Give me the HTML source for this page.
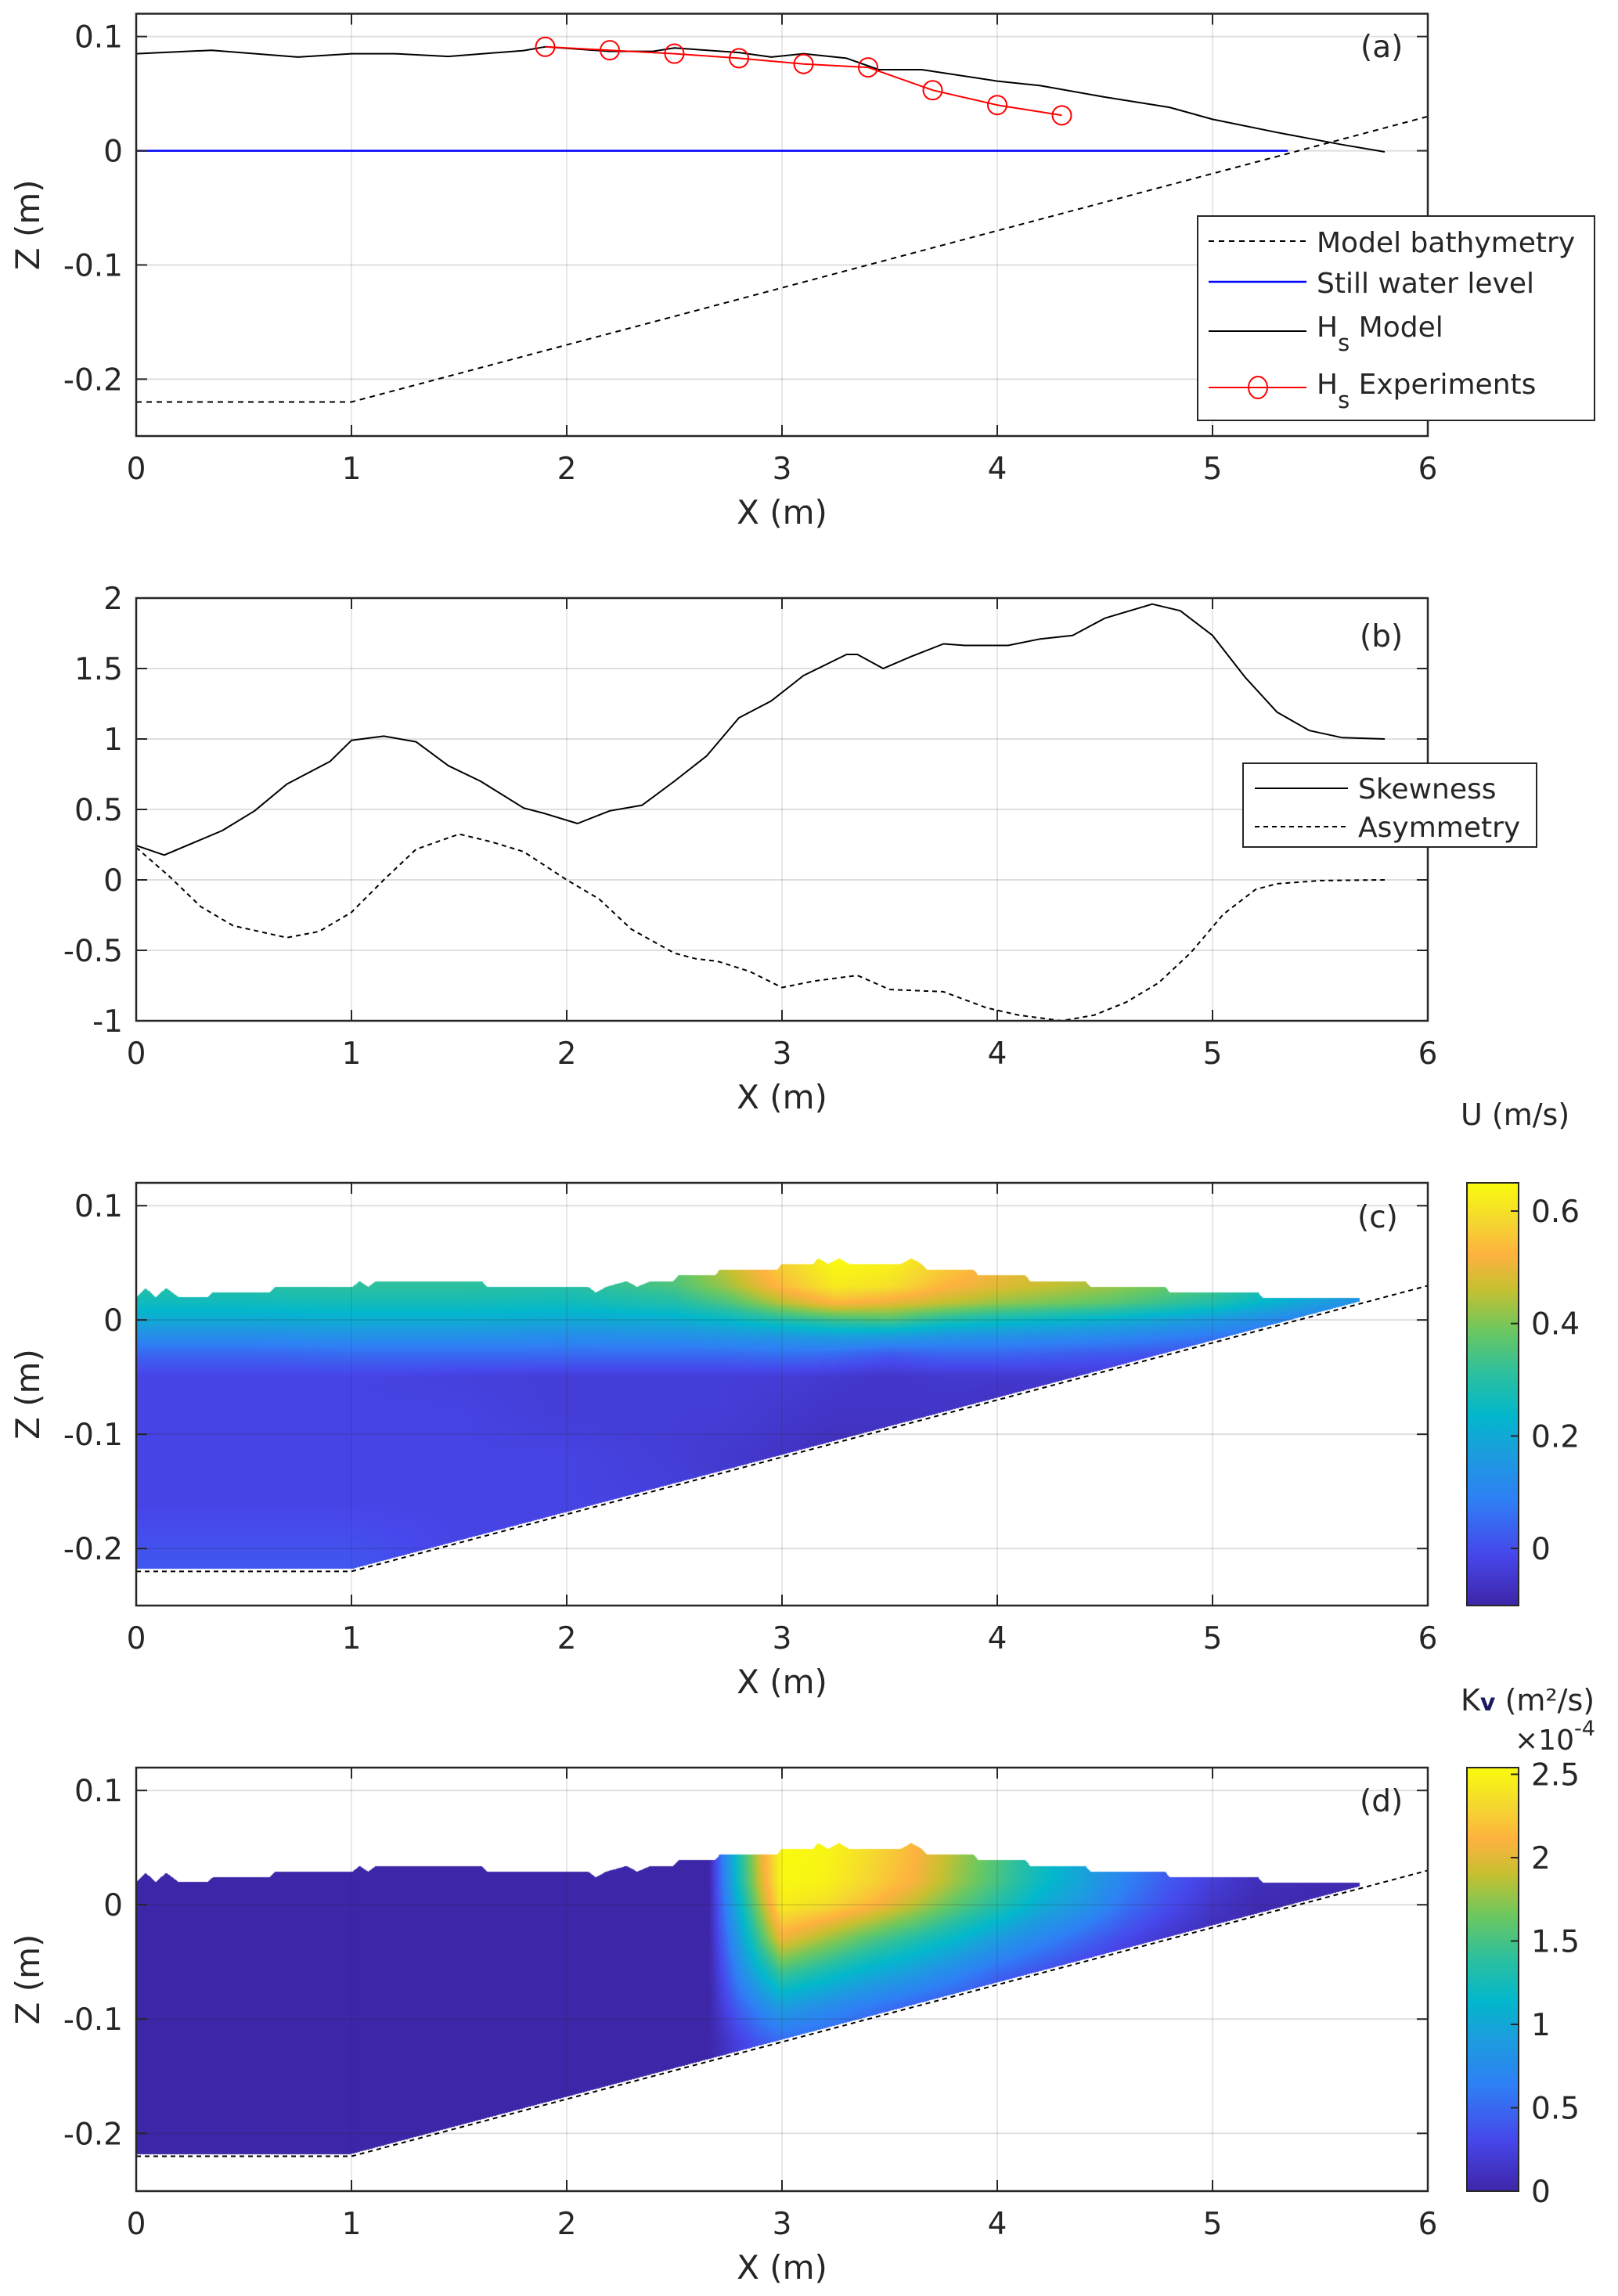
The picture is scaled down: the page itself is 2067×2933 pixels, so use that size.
<!DOCTYPE html>
<html><head><meta charset="utf-8"><style>
html,body{margin:0;padding:0;background:#fff;}
#wrap{position:relative;width:2067px;height:2933px;overflow:hidden;background:#fff;}
#heat{position:absolute;left:0;top:0;}
#svg{position:absolute;left:0;top:0;}
text{font-family:"DejaVu Sans","Liberation Sans",sans-serif;fill:#262626;}
</style></head><body>
<div id="wrap">
<canvas id="heat" width="2067" height="2933"></canvas>
<svg id="svg" width="2067" height="2933" xmlns="http://www.w3.org/2000/svg"></svg>
</div>
<script>
// ---------- DATA ----------
// Panel (a)
const hsModelX = [0,0.35,0.75,1.0,1.2,1.45,1.8,1.9,2.2,2.4,2.5,2.8,2.95,3.1,3.3,3.45,3.65,4.0,4.2,4.5,4.8,5.0,5.3,5.6,5.8];
const hsModelZ = [0.085,0.088,0.082,0.085,0.085,0.0826,0.0877,0.091,0.087,0.087,0.090,0.086,0.082,0.085,0.081,0.071,0.071,0.061,0.057,0.047,0.038,0.0275,0.016,0.0054,-0.001];
const hsExpX = [1.9,2.2,2.5,2.8,3.1,3.4,3.7,4.0,4.3];
const hsExpZ = [0.091,0.088,0.085,0.081,0.076,0.073,0.053,0.040,0.031];
const bathyX = [0,1,6];
const bathyZ = [-0.22,-0.22,0.03];
const swlX = [0,5.35];
const swlZ = [0,0];
// Panel (b)
const skewX = [0,0.13,0.4,0.55,0.7,0.9,1.0,1.15,1.3,1.45,1.6,1.8,1.9,2.05,2.2,2.35,2.5,2.65,2.8,2.95,3.1,3.3,3.35,3.47,3.6,3.75,3.85,4.05,4.2,4.35,4.5,4.72,4.85,5.0,5.15,5.3,5.45,5.6,5.8];
const skewV = [0.244,0.176,0.35,0.49,0.68,0.84,0.99,1.02,0.98,0.81,0.70,0.51,0.47,0.40,0.49,0.53,0.70,0.88,1.15,1.27,1.45,1.60,1.60,1.50,1.585,1.675,1.664,1.664,1.71,1.735,1.857,1.957,1.91,1.735,1.44,1.19,1.06,1.01,1.0];
const asymX = [0,0.15,0.3,0.45,0.7,0.85,1.0,1.15,1.3,1.5,1.65,1.8,2.0,2.15,2.3,2.5,2.6,2.7,2.85,3.0,3.15,3.35,3.5,3.75,3.95,4.1,4.3,4.45,4.6,4.75,4.9,5.05,5.2,5.3,5.5,5.8];
const asymV = [0.23,0.03,-0.19,-0.325,-0.41,-0.366,-0.23,0,0.217,0.325,0.27,0.2,0,-0.135,-0.35,-0.52,-0.56,-0.577,-0.65,-0.764,-0.718,-0.678,-0.778,-0.794,-0.908,-0.96,-1.0,-0.96,-0.867,-0.73,-0.515,-0.244,-0.068,-0.027,-0.005,0];
// Water surface envelope for (c),(d)
const surfX = [0,0.043,0.091,0.139,0.197,0.332,0.356,0.62,0.644,1.005,1.038,1.077,1.115,1.606,1.63,2.10,2.135,2.183,2.279,2.327,2.39,2.495,2.519,2.688,2.712,2.976,3.0,3.144,3.168,3.216,3.264,3.312,3.553,3.601,3.649,3.673,3.889,3.913,4.13,4.154,4.41,4.433,4.779,4.803,5.212,5.236,5.683];
const surfZ = [0.02,0.028,0.02,0.028,0.02,0.02,0.024,0.024,0.029,0.029,0.034,0.029,0.034,0.034,0.029,0.029,0.024,0.029,0.034,0.029,0.034,0.034,0.039,0.039,0.044,0.044,0.049,0.049,0.054,0.049,0.054,0.049,0.049,0.054,0.049,0.044,0.044,0.039,0.039,0.034,0.034,0.029,0.029,0.024,0.024,0.019,0.019];
// Panel (c) U grid
const uGridX = [0,0.5,1,1.5,2,2.5,2.75,3,3.25,3.5,3.75,4,4.5,5,5.5,6];
const uGridZ = [0.055,0.03,0.015,0,-0.015,-0.03,-0.05,-0.08,-0.12,-0.16,-0.22];
const uVals = [
[.32,.32,.33,.33,.32,.38,.48,.58,.65,.64,.58,.52,.46,.38,.27,.12],
[.30,.30,.31,.31,.30,.35,.43,.54,.62,.60,.53,.49,.43,.35,.24,.10],
[.26,.26,.27,.27,.26,.29,.35,.45,.53,.50,.46,.42,.37,.29,.17,.06],
[.20,.20,.21,.21,.20,.21,.24,.29,.33,.35,.29,.26,.22,.16,.08,.02],
[.12,.12,.13,.13,.12,.13,.14,.15,.17,.16,.14,.13,.11,.07,.02,0],
[.04,.04,.05,.05,.05,.05,.05,.06,.05,.02,.04,.04,.02,0,-.01,-.01],
[-.02,-.02,-.02,-.03,-.04,-.04,-.04,-.04,-.05,-.06,-.05,-.05,-.05,-.05,-.05,-.05],
[-.02,-.02,-.02,-.02,-.04,-.04,-.04,-.05,-.06,-.06,-.06,-.07,-.07,-.07,-.07,-.07],
[-.02,-.02,-.02,-.02,-.02,-.04,-.05,-.06,-.08,-.08,-.08,-.08,-.08,-.08,-.08,-.08],
[-.02,-.02,-.02,-.02,-.02,-.03,-.04,-.05,-.06,-.06,-.06,-.06,-.06,-.06,-.06,-.06],
[.02,.02,.02,-.02,-.02,-.02,-.02,-.02,-.02,-.02,-.02,-.02,-.02,-.02,-.02,-.02]];
// Panel (d) Kv grid (x1e-4)
const kGridX = [0,2.66,2.72,2.8,2.9,3.0,3.2,3.4,3.6,3.8,4.0,4.2,4.4,4.6,4.8,5.0,5.2,6];
const kGridZ = [0.05,0.02,0,-0.03,-0.06,-0.09,-0.12,-0.22];
const kVals = [
[0,0,0.6,1.3,2.0,2.54,2.5,2.35,2.15,1.85,1.55,1.25,1.0,0.7,0.45,0.25,0.1,0],
[0,0,0.55,1.25,1.95,2.52,2.48,2.3,2.1,1.8,1.5,1.2,0.95,0.65,0.4,0.22,0.08,0],
[0,0,0.5,1.1,1.8,2.45,2.35,2.15,1.9,1.6,1.35,1.05,0.85,0.55,0.33,0.15,0.05,0],
[0,0,0.4,0.9,1.5,2.05,1.8,1.55,1.35,1.15,0.9,0.7,0.5,0.3,0.15,0.05,0,0],
[0,0,0.3,0.7,1.1,1.45,1.25,1.05,0.9,0.7,0.5,0.35,0.2,0.1,0,0,0,0],
[0,0,0.2,0.45,0.7,0.9,0.75,0.6,0.45,0.35,0.2,0.1,0,0,0,0,0,0],
[0,0,0.1,0.25,0.4,0.5,0.45,0.35,0.25,0.15,0.1,0,0,0,0,0,0,0],
[0,0,0.05,0.1,0.2,0.3,0.3,0.2,0.1,0,0,0,0,0,0,0,0,0]];
const zTicks = [0.1,0,-0.1,-0.2];
const zTickLabels = ["0.1","0","-0.1","-0.2"];
const bTicks = [2,1.5,1,0.5,0,-0.5,-1];
const bTickLabels = ["2","1.5","1","0.5","0","-0.5","-1"];
const xTicks = [0,1,2,3,4,5,6];
const uCbTicks = [0.6,0.4,0.2,0];
const uCbLabels = ["0.6","0.4","0.2","0"];
const kCbTicks = [2.5,2,1.5,1,0.5,0];
const kCbLabels = ["2.5","2","1.5","1","0.5","0"];

// ---------- HELPERS ----------
const NS="http://www.w3.org/2000/svg";
const svg=document.getElementById('svg');
function mk(tag,attrs,parent){const e=document.createElementNS(NS,tag);for(const k in attrs)e.setAttribute(k,attrs[k]);(parent||svg).appendChild(e);return e;}
const X0=174, XS=275;
const px=x=>X0+x*XS;
function yMap(top,bottom,vmin,vmax){return v=>top+(vmax-v)/(vmax-vmin)*(bottom-top);}
const panels={
 a:{top:17.5,bottom:557,vmin:-0.2498,vmax:0.12},
 b:{top:764,bottom:1304,vmin:-1,vmax:2},
 c:{top:1511,bottom:2051,vmin:-0.2499,vmax:0.12},
 d:{top:2258,bottom:2799,vmin:-0.2505,vmax:0.12}
};
for(const k in panels){const p=panels[k];p.py=yMap(p.top,p.bottom,p.vmin,p.vmax);}

const stops=[[0,[62,38,168]],[0.12,[71,71,235]],[0.25,[47,128,245]],[0.37,[26,160,220]],[0.45,[3,184,204]],[0.55,[45,192,158]],[0.65,[108,200,96]],[0.75,[200,192,48]],[0.83,[254,178,63]],[0.91,[245,216,48]],[1,[249,251,14]]];
function cmap(t){t=Math.max(0,Math.min(1,t));for(let i=1;i<stops.length;i++){if(t<=stops[i][0]){const a=stops[i-1],b=stops[i];const f=(t-a[0])/(b[0]-a[0]);return [0,1,2].map(j=>Math.round(a[1][j]+f*(b[1][j]-a[1][j])));}}return stops[stops.length-1][1];}
function interp1(xs,ys,x){if(x<=xs[0])return ys[0];for(let i=1;i<xs.length;i++){if(x<=xs[i]){const f=(x-xs[i-1])/(xs[i]-xs[i-1]);return ys[i-1]+f*(ys[i]-ys[i-1]);}}return ys[ys.length-1];}
function bilin(gx,gz,vals,x,z){
 let i=0;while(i<gx.length-2&&x>gx[i+1])i++;
 let j=0;while(j<gz.length-2&&z<gz[j+1])j++;
 let fx=(x-gx[i])/(gx[i+1]-gx[i]);fx=Math.max(0,Math.min(1,fx));
 let fz=(gz[j]-z)/(gz[j]-gz[j+1]);fz=Math.max(0,Math.min(1,fz));
 const v00=vals[j][i],v01=vals[j][i+1],v10=vals[j+1][i],v11=vals[j+1][i+1];
 return (v00*(1-fx)+v01*fx)*(1-fz)+(v10*(1-fx)+v11*fx)*fz;
}
const bathy=x=>interp1(bathyX,bathyZ,x);

// ---------- HEATMAPS ----------
const ctx=document.getElementById('heat').getContext('2d');
function drawField(p,gx,gz,vals,vmin,vmax){
 const x1=Math.round(px(0)), x2=Math.round(px(6)), y1=Math.round(p.top), y2=Math.round(p.bottom);
 const w=x2-x1,h=y2-y1;const img=ctx.createImageData(w,h);
 for(let yy=0;yy<h;yy++){const z=p.vmax-(yy+y1+0.5-p.top)/(p.bottom-p.top)*(p.vmax-p.vmin);
  for(let xx=0;xx<w;xx++){const x=(xx+x1+0.5-X0)/XS;
   if(x>5.683)continue;
   if(z>interp1(surfX,surfZ,x))continue;
   if(z<bathy(x)+0.002)continue;
   const v=bilin(gx,gz,vals,x,z);const c=cmap((v-vmin)/(vmax-vmin));
   const k=(yy*w+xx)*4;img.data[k]=c[0];img.data[k+1]=c[1];img.data[k+2]=c[2];img.data[k+3]=255;}}
 ctx.putImageData(img,x1,y1);
}
drawField(panels.c,uGridX,uGridZ,uVals,-0.1016,0.6502);
drawField(panels.d,kGridX,kGridZ,kVals,0,2.54);
// colorbars
function drawCbar(x,top,bottom){const g=ctx.createLinearGradient(0,bottom,0,top);stops.forEach(s=>g.addColorStop(s[0],'rgb('+s[1].join(',')+')'));ctx.fillStyle=g;ctx.fillRect(x,top,66,bottom-top);}
drawCbar(1874,1511,2051);
drawCbar(1874,2258,2799);

// ---------- AXES ----------
function axes(key,name,yTicks){
 const p=panels[key];const g=mk('g',{});
 
 
 xTicks.forEach(t=>{const l=mk('line',{x1:px(t),x2:px(t),y1:p.top,y2:p.bottom,stroke:'#262626','stroke-opacity':0.15,'stroke-width':1.5},g);
  
  });
 yTicks.forEach(t=>{const l=mk('line',{x1:px(0),x2:px(6),y1:p.py(t),y2:p.py(t),stroke:'#262626','stroke-opacity':0.15,'stroke-width':2},g);
  
  });
 return g;
}
function frame(key,yTicks,yLabels,ylabel){
 const p=panels[key];const g=mk('g',{});
 
 
 const r=mk('rect',{x:px(0),y:p.top,width:px(6)-px(0),height:p.bottom-p.top,fill:'none',stroke:'#262626','stroke-width':2.5},g);
 
 
 xTicks.forEach((t,i)=>{
  mk('line',{x1:px(t),x2:px(t),y1:p.bottom,y2:p.bottom-14,stroke:'#262626','stroke-width':2},g);
  mk('line',{x1:px(t),x2:px(t),y1:p.top,y2:p.top+14,stroke:'#262626','stroke-width':2},g);
  const tx=mk('text',{x:px(t),y:p.bottom+55,'font-size':39,'text-anchor':'middle'},g);tx.textContent=String(t);
  
  });
 yTicks.forEach((t,i)=>{
  mk('line',{x1:px(0),x2:px(0)+14,y1:p.py(t),y2:p.py(t),stroke:'#262626','stroke-width':2},g);
  mk('line',{x1:px(6),x2:px(6)-14,y1:p.py(t),y2:p.py(t),stroke:'#262626','stroke-width':2},g);
  const tx=mk('text',{x:157,y:p.py(t)+14,'font-size':39,'text-anchor':'end'},g);tx.textContent=yLabels[i];
  
  });
 const xl=mk('text',{x:px(3),y:p.bottom+112,'font-size':42,'text-anchor':'middle'},g);xl.textContent='X (m)';
 
 
 if(ylabel){const cy=(p.top+p.bottom)/2;const yl=mk('text',{x:50,y:cy,'font-size':42,'text-anchor':'middle',transform:'rotate(-90 50 '+cy+')'},g);yl.textContent=ylabel;
  
  }
}
function path(xs,ys,py,attrs,name){let d='';xs.forEach((x,i)=>{d+=(i?'L':'M')+px(x).toFixed(1)+','+py(ys[i]).toFixed(1);});
 const e=mk('path',Object.assign({d:d,fill:'none','stroke-linejoin':'round'},attrs));
 
 
 return e;}
function label(txt,x,y){const t=mk('text',{x:x,y:y,'font-size':39});t.textContent=txt;
 
 }

// Panel (a)
axes('a','panel-a-grid',zTicks);
path(bathyX,bathyZ,panels.a.py,{stroke:'#000','stroke-width':2,'stroke-dasharray':'7,6'},'bathymetry-line');
path(swlX,swlZ,panels.a.py,{stroke:'#0000ff','stroke-width':2.5},'still-water-line');
path(hsModelX,hsModelZ,panels.a.py,{stroke:'#000','stroke-width':2},'hs-model-line');
path(hsExpX,hsExpZ,panels.a.py,{stroke:'#ff0000','stroke-width':2},'hs-experiment-line');
hsExpX.forEach((x,i)=>{const c=mk('ellipse',{cx:px(x),cy:panels.a.py(hsExpZ[i]),rx:12,ry:12,fill:'none',stroke:'#ff0000','stroke-width':2});
 
 });
frame('a',zTicks,zTickLabels,'Z (m)');
label('(a)',1738,73);

// Panel (b)
axes('b','panel-b-grid',bTicks);
path(skewX,skewV,panels.b.py,{stroke:'#000','stroke-width':2},'skewness-line');
path(asymX,asymV,panels.b.py,{stroke:'#000','stroke-width':2,'stroke-dasharray':'6,5'},'asymmetry-line');
frame('b',bTicks,bTickLabels,null);
label('(b)',1737,826);

// Panel (c)
axes('c','panel-c-grid',zTicks);
path(bathyX,bathyZ,panels.c.py,{stroke:'#000','stroke-width':2,'stroke-dasharray':'6,5'},'bathymetry-line-c');
frame('c',zTicks,zTickLabels,'Z (m)');
label('(c)',1734,1568);

// Panel (d)
axes('d','panel-d-grid',zTicks);
path(bathyX,bathyZ,panels.d.py,{stroke:'#000','stroke-width':2,'stroke-dasharray':'6,5'},'bathymetry-line-d');
frame('d',zTicks,zTickLabels,'Z (m)');
label('(d)',1737,2314);

// Colorbars
function cbar(top,bottom,vmin,vmax,ticks,labels,name){
 const g=mk('g',{});
 
 
 mk('rect',{x:1874,y:top,width:66,height:bottom-top,fill:'none',stroke:'#262626','stroke-width':2},g);
 const cy=yMap(top,bottom,vmin,vmax);
 ticks.forEach((t,i)=>{mk('line',{x1:1940,x2:1930,y1:cy(t),y2:cy(t),stroke:'#262626','stroke-width':2},g);
  const tx=mk('text',{x:1956,y:cy(t)+14,'font-size':39},g);tx.textContent=labels[i];
  
  });
}
cbar(1511,2051,-0.1016,0.6502,uCbTicks,uCbLabels,'u-colorbar');
cbar(2258,2799,0,2.54,kCbTicks,kCbLabels,'kv-colorbar');
const ut=mk('text',{x:1866,y:1437,'font-size':38});ut.textContent='U (m/s)';


const kt=mk('text',{x:1866,y:2185,'font-size':38});


kt.innerHTML='K<tspan font-size="30" font-weight="bold" fill="#1a1a60">v</tspan> (m²/s)';
const ex=mk('text',{x:1935,y:2235,'font-size':36});


ex.innerHTML='×10<tspan font-size="27" dy="-18">-4</tspan>';

// Legends
function legendBox(x,y,w,h,name){const r=mk('rect',{x:x,y:y,width:w,height:h,fill:'#fff',stroke:'#262626','stroke-width':2});
 
 }
legendBox(1530,276,507,261,'legend-a');
function legLine(x1,x2,y,attrs,name){const l=mk('line',Object.assign({x1:x1,x2:x2,y1:y,y2:y},attrs));
 
 }
function legText(x,y,html,name){const t=mk('text',{x:x,y:y,'font-size':36});t.innerHTML=html;
 
 }
legLine(1544,1669,308,{stroke:'#000','stroke-width':2,'stroke-dasharray':'7,6'},'legend-bathymetry-swatch');
legText(1682,322,'Model bathymetry','legend-bathymetry-label');
legLine(1544,1669,360,{stroke:'#0000ff','stroke-width':2.5},'legend-swl-swatch');
legText(1682,374,'Still water level','legend-swl-label');
legLine(1544,1669,423,{stroke:'#000','stroke-width':2},'legend-hs-model-swatch');
legText(1682,430,'H<tspan font-size="29" dy="18">s</tspan><tspan dy="-18"> Model</tspan>','legend-hs-model-label');
legLine(1544,1669,495,{stroke:'#ff0000','stroke-width':2},'legend-hs-exp-swatch');
const lc=mk('ellipse',{cx:1607,cy:495,rx:12,ry:14,fill:'none',stroke:'#ff0000','stroke-width':2});


legText(1682,503,'H<tspan font-size="29" dy="18">s</tspan><tspan dy="-18"> Experiments</tspan>','legend-hs-exp-label');

legendBox(1588,975,375,107,'legend-b');
legLine(1603,1722,1007,{stroke:'#000','stroke-width':2},'legend-skewness-swatch');
legText(1735,1020,'Skewness','legend-skewness-label');
legLine(1603,1722,1056,{stroke:'#000','stroke-width':2,'stroke-dasharray':'6,5'},'legend-asymmetry-swatch');
legText(1735,1069,'Asymmetry','legend-asymmetry-label');
</script>
</body></html>
